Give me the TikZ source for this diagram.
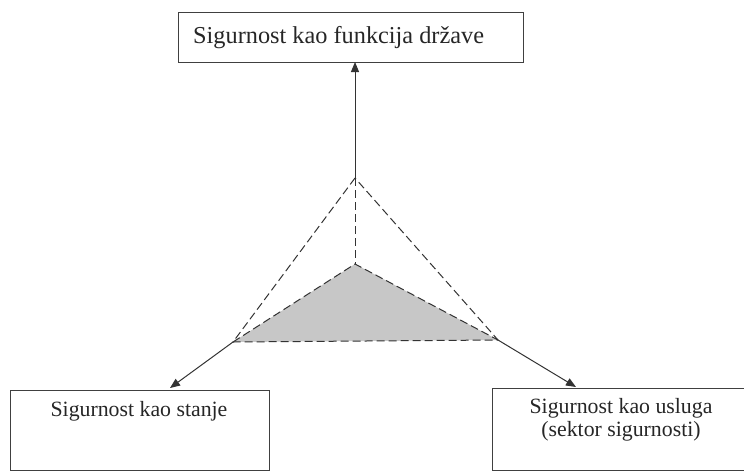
\documentclass[tikz,border=0pt]{standalone}
\usepackage{fontspec}
\setmainfont{Liberation Serif}
\usetikzlibrary{arrows.meta}
\begin{document}
\begin{tikzpicture}[x=1pt,y=-1pt,
  box/.style={draw=black!75,line width=0.9pt,inner sep=0pt},
  lbl/.style={font=\fontsize{21.8}{23}\selectfont,text=black!85,align=center,inner sep=0pt},
  arr/.style={draw=black!80,line width=1pt,-{Triangle[length=10pt,width=8pt]}},
  dsh/.style={draw=black!80,line width=1pt,dash pattern=on 8pt off 4pt}]
\useasboundingbox (0,0) rectangle (744,472);
% boxes
\draw[box] (178,12) rectangle (523,62);
\node[lbl,anchor=west,font=\fontsize{24.3}{28}\selectfont] (top) at (193,38) {Sigurnost kao funkcija države};
\coordinate (topin) at (355,62);
\draw[box] (10,390) rectangle (269,470);
\node[lbl] (left) at (139,411) {Sigurnost kao stanje};
\coordinate (leftin) at (170,388);
\draw[box] (492,388) rectangle (760,470);
\node[lbl] (right) at (621,420) {Sigurnost kao usluga\\(sektor sigurnosti)};
\coordinate (rightin) at (576,387);
% triangle
\coordinate (A) at (355,178);
\coordinate (B) at (233,342);
\coordinate (C) at (498,340);
\coordinate (D) at (355,264);
\fill[black!22] (D) -- (B) -- (C) -- cycle;
\draw[dsh] (A) -- (B) -- (C) -- cycle;
\draw[dsh] (A) -- (D);
\draw[dsh] (B) -- (D) -- (C);
% arrows
\draw[arr] (A) -- (topin);
\draw[arr] (B) -- (leftin);
\draw[arr] (C) -- (rightin);
\end{tikzpicture}
\end{document}
